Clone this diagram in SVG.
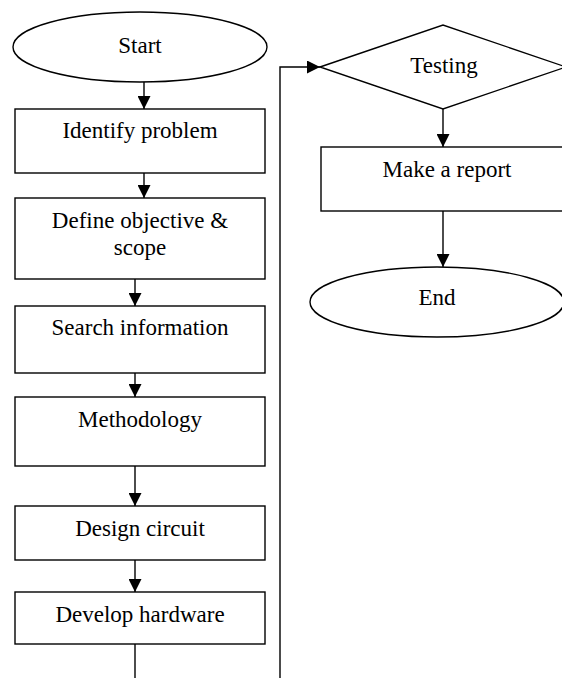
<svg xmlns="http://www.w3.org/2000/svg" width="562" height="678" viewBox="0 0 562 678">
<style>
.n{fill:#fff;stroke:#000;stroke-width:1.4}
.t{font-family:"Liberation Serif","Times New Roman",serif;font-size:23px;fill:#000;text-anchor:middle}
.c{fill:none;stroke:#000;stroke-width:1.4}
</style>
<defs>
<marker id="ah" markerUnits="userSpaceOnUse" markerWidth="13" markerHeight="13" refX="13" refY="6.5" orient="auto">
<path d="M0,0 L13,6.5 L0,13 Z" fill="#000"/>
</marker>
</defs>
<rect width="562" height="678" fill="#fff"/>
<g id="connectors">
<line class="c" x1="144" y1="82" x2="144" y2="109" marker-end="url(#ah)"/>
<line class="c" x1="144" y1="173" x2="144" y2="198" marker-end="url(#ah)"/>
<line class="c" x1="135" y1="279" x2="135" y2="306" marker-end="url(#ah)"/>
<line class="c" x1="135" y1="373" x2="135" y2="397" marker-end="url(#ah)"/>
<line class="c" x1="135" y1="466" x2="135" y2="506" marker-end="url(#ah)"/>
<line class="c" x1="135" y1="560" x2="135" y2="592" marker-end="url(#ah)"/>
<line class="c" x1="135" y1="644" x2="135" y2="680"/>
<polyline class="c" points="280,680 280,67 320,67" marker-end="url(#ah)"/>
<line class="c" x1="443" y1="109" x2="443" y2="147" marker-end="url(#ah)"/>
<line class="c" x1="443" y1="211" x2="443" y2="267" marker-end="url(#ah)"/>
</g>
<g id="start">
<ellipse class="n" cx="140" cy="47" rx="127" ry="35"/>
<text class="t" x="140" y="53">Start</text>
</g>
<g id="identify">
<rect class="n" x="15" y="109" width="250" height="64"/>
<text class="t" x="140" y="138">Identify problem</text>
</g>
<g id="define">
<rect class="n" x="15" y="198" width="250" height="81"/>
<text class="t" x="140" y="228">Define objective &amp;</text>
<text class="t" x="140" y="255">scope</text>
</g>
<g id="search">
<rect class="n" x="15" y="306" width="250" height="67"/>
<text class="t" x="140" y="335">Search information</text>
</g>
<g id="methodology">
<rect class="n" x="15" y="397" width="250" height="69"/>
<text class="t" x="140" y="427">Methodology</text>
</g>
<g id="design">
<rect class="n" x="15" y="506" width="250" height="54"/>
<text class="t" x="140" y="536">Design circuit</text>
</g>
<g id="develop">
<rect class="n" x="15" y="592" width="250" height="52"/>
<text class="t" x="140" y="622">Develop hardware</text>
</g>
<g id="testing">
<polygon class="n" points="320,67 443,25 566,67 443,109"/>
<text class="t" x="444" y="73">Testing</text>
</g>
<g id="report">
<rect class="n" x="321" y="147" width="250" height="64"/>
<text class="t" x="447" y="177">Make a report</text>
</g>
<g id="end">
<ellipse class="n" cx="437" cy="302" rx="127" ry="35"/>
<text class="t" x="437" y="305">End</text>
</g>
</svg>
